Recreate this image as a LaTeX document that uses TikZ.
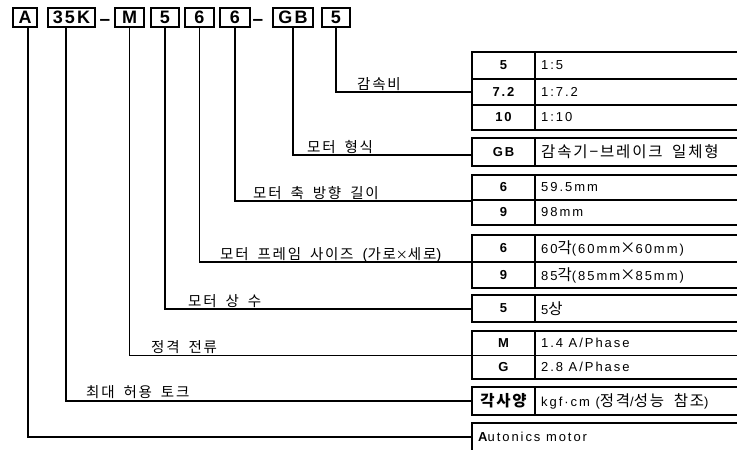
\documentclass[tikz,border=0pt]{standalone}
\usepackage{fontspec}
\setmainfont{Liberation Sans}
\newfontfamily\lat{Liberation Sans}[LetterSpace=15]
\newfontfamily\ttl{Liberation Sans}[LetterSpace=12]
\newfontfamily\kr{Noto Sans CJK KR}[LetterSpace=12,WordSpace=1.8]
\newcommand\K[1]{{\fontsize{15.5}{15.5}\selectfont\kr #1}}
\newcommand\Lt[1]{{\fontsize{15}{15}\selectfont\lat #1}}
\begin{document}
\begin{tikzpicture}[x=1pt,y=-1pt,
  codebox/.style={draw, line width=1.1pt, minimum height=19pt, inner sep=0pt, font=\fontsize{18}{18}\selectfont\ttl\bfseries},
  dashtxt/.style={anchor=base, inner sep=0pt, font=\fontsize{19}{19}\selectfont\bfseries},
  lbl/.style={anchor=base west, inner sep=0pt, font=\fontsize{14.5}{15}\selectfont\kr},
  code/.style={inner sep=0pt, font=\fontsize{13}{14}\selectfont\lat\bfseries},
  val/.style={anchor=west, inner sep=0pt, font=\fontsize{13}{14}\selectfont\lat},
  conn/.style={line width=1.1pt},
  tbl/.style={line width=1.3pt}]
\useasboundingbox (0,0) rectangle (737,450);
% title boxes
\node[codebox, minimum width=24pt] (bA) at (25,17.5) {A};
\node[codebox, minimum width=47pt] (bT) at (71.5,17.5) {35K};
\node[dashtxt] (d1) at (105,25.5) {–};
\node[codebox, minimum width=29pt] (bM) at (129.5,17.5) {M};
\node[codebox, minimum width=28pt] (bP) at (165,17.5) {5};
\node[codebox, minimum width=29pt] (bF) at (199.5,17.5) {6};
\node[codebox, minimum width=30pt] (bL) at (235,17.5) {6};
\node[dashtxt] (d2) at (258,25.5) {–};
\node[codebox, minimum width=40pt] (bG) at (293,17.5) {GB};
\node[codebox, minimum width=28pt] (bR) at (336,17.5) {5};
% tables
\def\tl{472}\def\tm{535}\def\tr{737}
\newcommand\tabframe[2]{%
  \draw[tbl] (\tr,#1) -- (\tl,#1) -- (\tl,#2) -- (\tr,#2);
  \draw[tbl] (\tm,#1) -- (\tm,#2);}
% T1 ratio
\tabframe{52}{130}
\draw[tbl] (\tl,79) -- (\tr,79);
\draw[tbl] (\tl,105) -- (\tr,105);
\node[code] (c11) at (503.5,65.5) {5};
\node[val] (v11) at (541,65.5) {1:5};
\node[code] (c12) at (503.5,92) {7.2};
\node[val] (v12) at (541,92) {1:7.2};
\node[code] (c13) at (503.5,117.5) {10};
\node[val] (v13) at (541,117.5) {1:10};
% T2 type
\tabframe{138}{166}
\node[code] (c21) at (503.5,152) {GB};
\node[val] (v21) at (541,152) {\K{감속기−브레이크 일체형}};
% T3 length
\tabframe{175}{225}
\draw[tbl] (\tl,200) -- (\tr,200);
\node[code] (c31) at (503.5,187.5) {6};
\node[val] (v31) at (541,187.5) {59.5mm};
\node[code] (c32) at (503.5,212.5) {9};
\node[val] (v32) at (541,212.5) {98mm};
% T4 frame
\tabframe{235}{288}
\draw[tbl] (\tl,262) -- (\tr,262);
\node[code] (c41) at (503.5,248.5) {6};
\node[val] (v41) at (541,248.5) {60\K{각}(60mm\K{×}60mm)};
\node[code] (c42) at (503.5,275) {9};
\node[val] (v42) at (541,275) {85\K{각}(85mm\K{×}85mm)};
% T5 phase
\tabframe{295}{322}
\node[code] (c51) at (503.5,308.5) {5};
\node[val] (v51) at (541,308.5) {5\K{상}};
% T6 current
\tabframe{331}{379}
\draw[tbl] (\tl,355.5) -- (\tr,355.5);
\node[code] (c61) at (503.5,343) {M};
\node[val] (v61) at (541,343) {1.4 A/Phase};
\node[code] (c62) at (503.5,367) {G};
\node[val] (v62) at (541,367) {2.8 A/Phase};
% T7 torque
\tabframe{387}{415}
\node[code] (c71) at (503.5,401) {\K{각사양}};
\node[val] (v71) at (541,401) {kgf·cm (\K{정격}/\K{성능 참조})};
% T8 maker
\draw[tbl] (\tr,423) -- (\tl,423) -- (\tl,450);
\node[val] (v81) at (478,437) {{\bfseries A}utonics motor};
% connection points
\coordinate (tR) at (\tl,92);
\coordinate (tG) at (\tl,155);
\coordinate (tL) at (\tl,201);
\coordinate (tF) at (\tl,262);
\coordinate (tP) at (\tl,309);
\coordinate (tM) at (\tl,355.5);
\coordinate (tT) at (\tl,401);
\coordinate (tA) at (\tl,437);
% connectors
\draw[conn] (bR.south) |- (tR);
\draw[conn] (bG.south) |- (tG);
\draw[conn] (bL.south) |- (tL);
\draw[conn] (bF.south) |- (tF);
\draw[conn] (bP.south) |- (tP);
\draw[conn] (bM.south) |- (tM);
\draw[conn] ([xshift=-5.5pt]bT.south) |- (tT);
\draw[conn] ([xshift=3pt]bA.south) |- (tA);
% labels
\node[lbl] (lR) at (357,89) {감속비};
\node[lbl] (lG) at (307,152) {모터 형식};
\node[lbl] (lL) at (253,198) {모터 축 방향 길이};
\node[lbl] (lF) at (220,259) {모터 프레임 사이즈 \Lt{(}가로{\fontsize{12}{12}\selectfont ×}세로\Lt{)}};
\node[lbl] (lP) at (188,306) {모터 상 수};
\node[lbl] (lM) at (151,352) {정격 전류};
\node[lbl] (lT) at (86,397) {최대 허용 토크};
\end{tikzpicture}
\end{document}
